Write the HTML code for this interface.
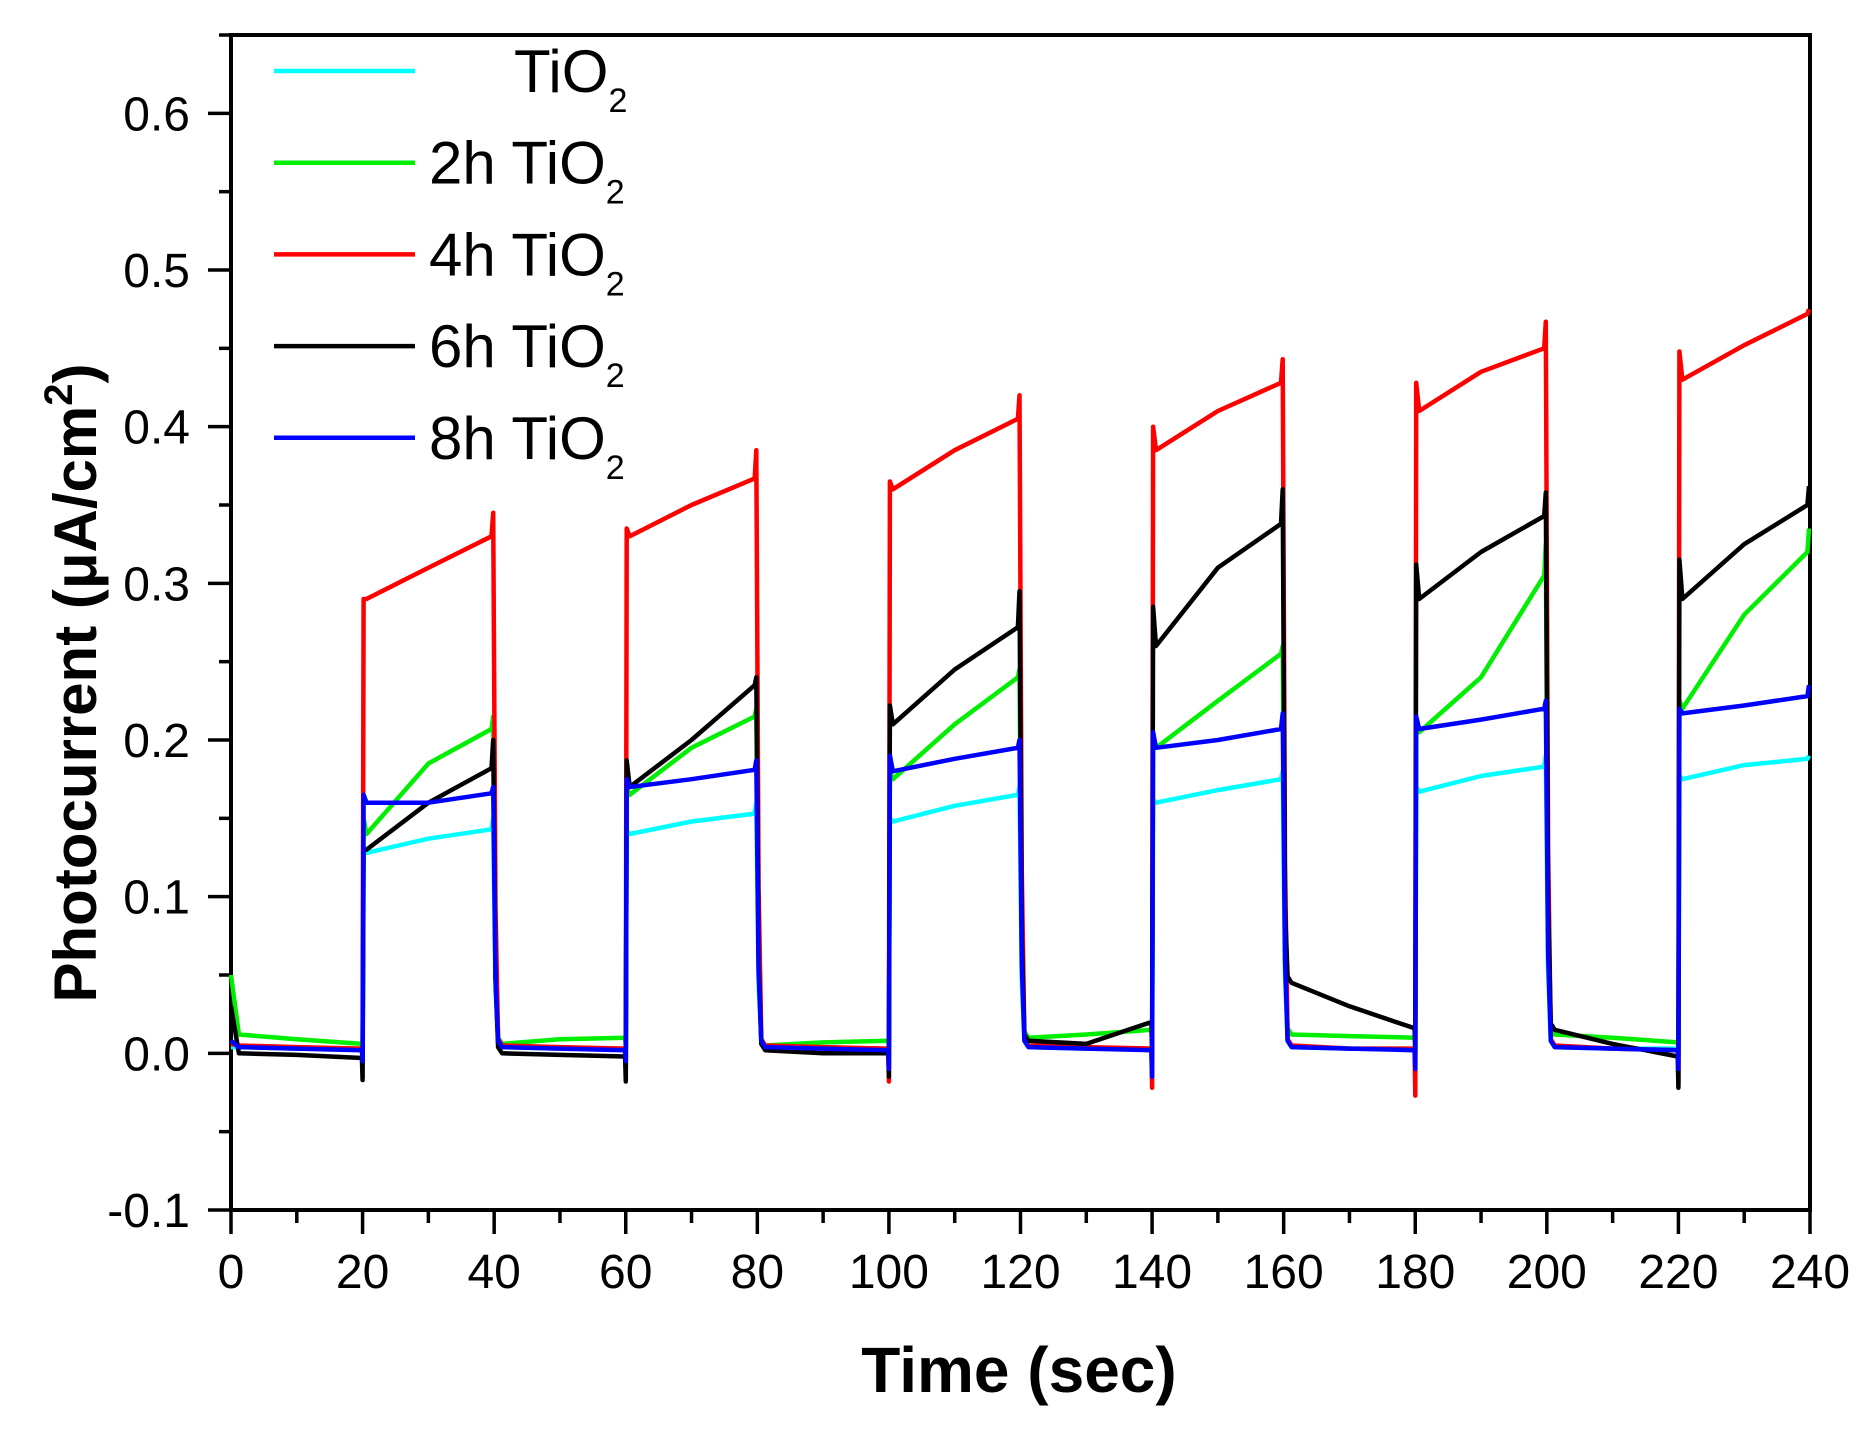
<!DOCTYPE html>
<html><head><meta charset="utf-8"><style>
html,body{margin:0;padding:0;background:#fff}
svg{display:block}
text{font-family:"Liberation Sans",Arial,sans-serif;fill:#000}
</style></head><body>
<svg id="chart" width="1858" height="1433" viewBox="0 0 1858 1433" xmlns="http://www.w3.org/2000/svg">
<g id="axes"></g>
<g id="series"></g>
<g id="legend"></g>
<text x="1019" y="1392" font-size="64" font-weight="bold" text-anchor="middle">Time (sec)</text>
<text transform="translate(96,683) rotate(-90)" font-size="60" font-weight="bold" text-anchor="middle">Photocurrent (μA/cm<tspan font-size="40" dy="-24">2</tspan><tspan dy="24">)</tspan></text>
</svg>
<script>
const xTicks=[0,20,40,60,80,100,120,140,160,180,200,220,240];
const yTicks=[-0.1,0.0,0.1,0.2,0.3,0.4,0.5,0.6];
const yTickLabels=["-0.1","0.0","0.1","0.2","0.3","0.4","0.5","0.6"];
const seriesNames=["TiO2","2h TiO2","4h TiO2","6h TiO2","8h TiO2"];
const legendPrefix=["","2h ","4h ","6h ","8h "];
const seriesColors=["#00ffff","#00ee00","#ff0000","#000000","#0000ff"];
const initVal=[0.004,0.05,0.006,0.03,0.008];
const offStart=[[0.004,0.004,0.004,0.004,0.004,0.004],[0.012,0.006,0.005,0.01,0.012,0.012],[0.005,0.005,0.005,0.005,0.005,0.005],[0.0,0.0,0.002,0.008,0.045,0.015],[0.004,0.004,0.004,0.004,0.004,0.004]];
const offMid=[[0.003,0.003,0.003,0.003,0.003,0.003],[0.009,0.009,0.007,0.012,0.011,0.01],[0.004,0.004,0.004,0.004,0.003,0.003],[-0.001,-0.001,0.0,0.006,0.03,0.006],[0.003,0.003,0.003,0.003,0.003,0.003]];
const offEnd=[[0.003,0.003,0.003,0.003,0.003,0.003],[0.006,0.01,0.008,0.015,0.01,0.007],[0.003,0.003,0.003,0.003,0.003,0.002],[-0.003,-0.002,0.0,0.02,0.016,-0.002],[0.002,0.002,0.002,0.002,0.002,0.002]];
const onDip=[[0.0,0.0,0.0,0.0,0.0,0.0],[0.005,0.005,0.005,0.005,0.005,0.005],[0.003,-0.01,-0.018,-0.022,-0.027,-0.02],[-0.017,-0.018,-0.015,0.0,0.0,-0.022],[-0.005,-0.005,-0.01,-0.015,-0.01,-0.01]];
const onPeak=[[0.13,0.142,0.15,0.162,0.17,0.177],[0.15,0.17,0.18,0.2,0.21,0.225],[0.29,0.335,0.365,0.4,0.428,0.448],[0.13,0.187,0.222,0.285,0.312,0.315],[0.165,0.175,0.19,0.205,0.215,0.22]];
const onStart=[[0.128,0.14,0.148,0.16,0.167,0.175],[0.14,0.165,0.175,0.195,0.205,0.22],[0.29,0.33,0.36,0.385,0.41,0.43],[0.13,0.17,0.21,0.26,0.29,0.29],[0.16,0.17,0.18,0.195,0.207,0.217]];
const onMid=[[0.137,0.148,0.158,0.168,0.177,0.184],[0.185,0.195,0.21,0.225,0.24,0.28],[0.31,0.35,0.385,0.41,0.435,0.452],[0.16,0.2,0.245,0.31,0.32,0.325],[0.16,0.175,0.188,0.2,0.213,0.222]];
const onEnd=[[0.143,0.153,0.165,0.175,0.183,0.188],[0.207,0.215,0.24,0.255,0.305,0.32],[0.33,0.367,0.405,0.428,0.45,0.472],[0.182,0.235,0.272,0.338,0.343,0.35],[0.166,0.181,0.195,0.207,0.22,0.228]];
const offSpike=[[0.15,0.16,0.17,0.18,0.19,0.19],[0.215,0.22,0.245,0.26,0.325,0.335],[0.345,0.385,0.42,0.443,0.467,0.475],[0.2,0.24,0.295,0.36,0.358,0.362],[0.17,0.187,0.2,0.217,0.225,0.235]];

const X0=231,X1=1810,Y0=1210,YT=35;
const xMin=0,xMax=240,yMin=-0.1,yMax=0.65;
function sx(t){return X0+(t-xMin)/(xMax-xMin)*(X1-X0);}
function sy(v){return Y0-(v-yMin)/(yMax-yMin)*(Y0-YT);}
const NS="http://www.w3.org/2000/svg";
function mk(tag,attrs,parent){const e=document.createElementNS(NS,tag);for(const k in attrs)e.setAttribute(k,attrs[k]);parent.appendChild(e);return e;}
const axes=document.getElementById('axes');
for(let i=0;i<xTicks.length;i++){
  const x=sx(xTicks[i]);
  const t=mk('line',{x1:x,y1:Y0,x2:x,y2:Y0+24,stroke:'#000','stroke-width':3.5},axes);
  
  
  const lb=mk('text',{x:x,y:1288,'font-size':48,'text-anchor':'middle'},axes);
  lb.textContent=xTicks[i];
  
  
  if(i<xTicks.length-1){
    const xm=sx(xTicks[i]+10);
    const m=mk('line',{x1:xm,y1:Y0,x2:xm,y2:Y0+13,stroke:'#000','stroke-width':3.5},axes);
    
    
  }
}
for(let i=0;i<yTicks.length;i++){
  const y=sy(yTicks[i]);
  const t=mk('line',{x1:X0-23,y1:y,x2:X0,y2:y,stroke:'#000','stroke-width':3.5},axes);
  
  
  const lb=mk('text',{x:190,y:y+17,'font-size':48,'text-anchor':'end'},axes);
  lb.textContent=yTickLabels[i];
  
  
  const ym=sy(yTicks[i]+0.05);
  const m=mk('line',{x1:X0-12,y1:ym,x2:X0,y2:ym,stroke:'#000','stroke-width':3.5},axes);
  
  
}
const frame=mk('rect',{x:X0,y:YT,width:X1-X0,height:Y0-YT,fill:'none',stroke:'#000','stroke-width':4},axes);



const sg=document.getElementById('series');
for(let s=0;s<seriesNames.length;s++){
  const pts=[[0,initVal[s]]];
  for(let k=0;k<6;k++){
    const t0=40*k,t1=t0+20;
    pts.push([t0+1.2,offStart[s][k]]);
    pts.push([t0+10,offMid[s][k]]);
    pts.push([t1-0.1,offEnd[s][k]]);
    pts.push([t1,onDip[s][k]]);
    pts.push([t1+0.15,onPeak[s][k]]);
    pts.push([t1+0.6,onStart[s][k]]);
    pts.push([t1+10,onMid[s][k]]);
    pts.push([t1+19.6,onEnd[s][k]]);
    pts.push([t1+19.85,offSpike[s][k]]);
    if(k<5){pts.push([t1+20.2,onMid[s][k]*0.3]);pts.push([t1+20.6,offStart[s][k+1]+0.004]);}
  }
  const d=pts.map((p,i)=>(i?'L':'M')+sx(p[0]).toFixed(1)+','+sy(p[1]).toFixed(1)).join(' ');
  const path=mk('path',{d:d,fill:'none',stroke:seriesColors[s],'stroke-width':4.5,'stroke-linejoin':'round'},sg);
  
  
}
const lg=document.getElementById('legend');
for(let s=0;s<seriesNames.length;s++){
  const y=71+91.7*s;
  const ln=mk('line',{x1:274,y1:y,x2:415,y2:y,stroke:seriesColors[s],'stroke-width':4.5},lg);
  
  
  const tx=mk('text',{x:s===0?514:429,y:y+21,'font-size':60},lg);
  
  
  tx.appendChild(document.createTextNode(legendPrefix[s]+'TiO'));
  const sub=mk('tspan',{'font-size':34,dy:20},tx);
  sub.textContent='2';
}
</script>
</body></html>
